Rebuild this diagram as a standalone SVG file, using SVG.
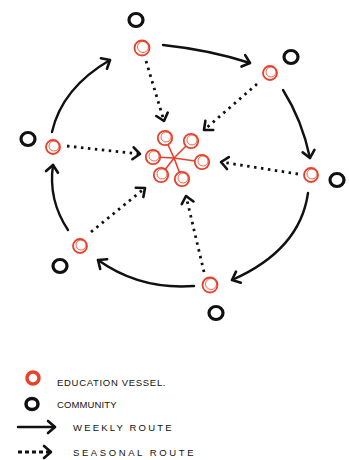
<svg xmlns="http://www.w3.org/2000/svg" width="349" height="460" viewBox="0 0 349 460">
<style>
.vessel{fill:none;stroke:#e8402a;stroke-width:1.8}
.vessel2{fill:none;stroke:#e8402a;stroke-width:0.8}
.hubc{fill:#fff;stroke:#e8402a;stroke-width:1.8}
.comm{fill:none;stroke:#111;stroke-width:3.2}
.weekly{fill:none;stroke:#111;stroke-width:2.4;stroke-linecap:round}
.seasonal{fill:none;stroke:#111;stroke-width:2.8;stroke-dasharray:2.5 4.5;stroke-linecap:butt}
.spoke{stroke:#e8402a;stroke-width:1.6}
.lbl{font-family:"Liberation Sans",Arial,sans-serif;font-size:9.5px;fill:#111;letter-spacing:1.5px}
</style>
<defs>
<marker id="chev" markerUnits="userSpaceOnUse" markerWidth="20" markerHeight="20" refX="0" refY="0" viewBox="-10 -10 20 20" orient="auto">
<path d="M-7,-6 L0,0 L-7,6" fill="none" stroke="#111" stroke-width="2.6" stroke-linecap="round" stroke-linejoin="round"/>
</marker>
</defs>
<g id="communities">
<g id="c1"><ellipse class="comm" cx="136" cy="20" rx="7" ry="6.5"/></g>
<g id="c2"><ellipse class="comm" cx="291" cy="57" rx="7" ry="6.5"/></g>
<g id="c3"><ellipse class="comm" cx="337" cy="180" rx="7" ry="6.5"/></g>
<g id="c4"><ellipse class="comm" cx="216" cy="313" rx="7" ry="6.5"/></g>
<g id="c5"><ellipse class="comm" cx="60" cy="266" rx="7" ry="6.5"/></g>
<g id="c6"><ellipse class="comm" cx="28" cy="139" rx="7" ry="6.5"/></g>
</g>
<g id="vessels">
<g id="v1"><circle class="vessel" cx="142" cy="48" r="7.5"/><circle class="vessel2" cx="143" cy="47" r="5.5"/></g>
<g id="v2"><circle class="vessel" cx="270" cy="73" r="7"/><circle class="vessel2" cx="271" cy="72" r="5"/></g>
<g id="v3"><circle class="vessel" cx="311" cy="175" r="7"/><circle class="vessel2" cx="312" cy="174" r="5"/></g>
<g id="v4"><circle class="vessel" cx="210" cy="285" r="7.5"/><circle class="vessel2" cx="211" cy="284" r="5.5"/></g>
<g id="v5"><circle class="vessel" cx="80" cy="246" r="7"/><circle class="vessel2" cx="81" cy="245" r="5"/></g>
<g id="v6"><circle class="vessel" cx="53" cy="147" r="7"/><circle class="vessel2" cx="54" cy="146" r="5"/></g>
</g>
<g id="hub">
<line class="spoke" x1="174" y1="158" x2="165" y2="138"/>
<line class="spoke" x1="174" y1="158" x2="191" y2="141"/>
<line class="spoke" x1="174" y1="158" x2="202" y2="162"/>
<line class="spoke" x1="174" y1="158" x2="182" y2="179"/>
<line class="spoke" x1="174" y1="158" x2="161" y2="175"/>
<line class="spoke" x1="174" y1="158" x2="153" y2="157"/>
<circle class="hubc" cx="165" cy="138" r="7.2"/><circle class="vessel2" cx="166" cy="137" r="5"/>
<circle class="hubc" cx="191" cy="141" r="7.2"/><circle class="vessel2" cx="192" cy="140" r="5"/>
<circle class="hubc" cx="202" cy="162" r="7.2"/><circle class="vessel2" cx="203" cy="161" r="5"/>
<circle class="hubc" cx="182" cy="179" r="7.2"/><circle class="vessel2" cx="183" cy="178" r="5"/>
<circle class="hubc" cx="161" cy="175" r="7.2"/><circle class="vessel2" cx="162" cy="174" r="5"/>
<circle class="hubc" cx="153" cy="157" r="7.2"/><circle class="vessel2" cx="154" cy="156" r="5"/>
</g>
<g id="connectors">
<path class="weekly" d="M52,132 Q62,88 110,60" marker-end="url(#chev)"/>
<path class="weekly" d="M163,45 Q210,50 250,63" marker-end="url(#chev)"/>
<path class="weekly" d="M283,90 Q302,120 310,158" marker-end="url(#chev)"/>
<path class="weekly" d="M308,193 Q300,250 232,280" marker-end="url(#chev)"/>
<path class="weekly" d="M194,286 Q140,290 98,260" marker-end="url(#chev)"/>
<path class="weekly" d="M68,230 Q48,200 53,165" marker-end="url(#chev)"/>
<path class="seasonal" d="M146,61 L164,121" marker-end="url(#chev)"/>
<path class="seasonal" d="M257,84 L204,130" marker-end="url(#chev)"/>
<path class="seasonal" d="M298,174 L221,162" marker-end="url(#chev)"/>
<path class="seasonal" d="M204,272 L186,196" marker-end="url(#chev)"/>
<path class="seasonal" d="M91,232 L145,188" marker-end="url(#chev)"/>
<path class="seasonal" d="M67,146 L140,154" marker-end="url(#chev)"/>
</g>
<g id="legend">
<circle cx="33" cy="378" r="6" fill="none" stroke="#e8402a" stroke-width="3.5"/>
<text class="lbl" x="57" y="386" textLength="110">EDUCATION VESSEL.</text>
<ellipse cx="32" cy="404" rx="6" ry="5.5" fill="none" stroke="#111" stroke-width="3.5"/>
<text class="lbl" x="57" y="408" textLength="61">COMMUNITY</text>
<path class="weekly" d="M18,427 L55,427" marker-end="url(#chev)"/>
<text class="lbl" x="73" y="431" textLength="100">WEEKLY ROUTE</text>
<path class="seasonal" d="M18,452 L51,452" marker-end="url(#chev)" style="stroke-dasharray:4 3"/>
<text class="lbl" x="73" y="456" textLength="122">SEASONAL ROUTE</text>
</g>
</svg>
